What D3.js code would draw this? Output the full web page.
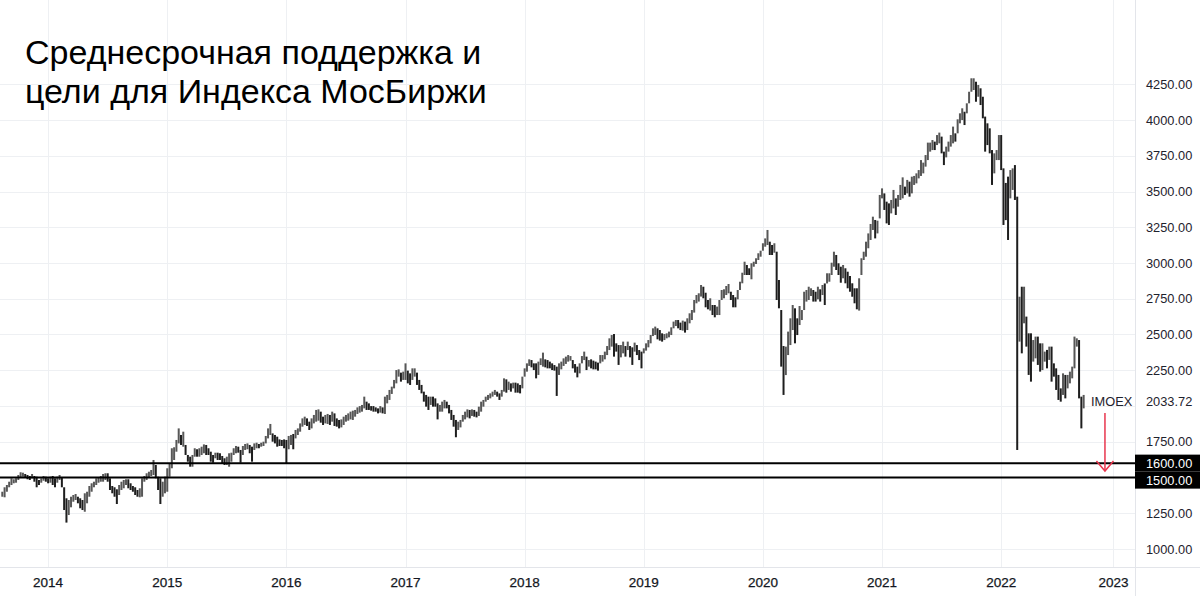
<!DOCTYPE html>
<html><head><meta charset="utf-8">
<script src="https://cdn.jsdelivr.net/npm/d3@7"></script>
<style>html,body{margin:0;padding:0;background:#fff}svg{display:block}</style>
</head><body>
<svg id="chart" width="1200" height="596"></svg>
<script>
// ---- DATA (weekly high / low, IMOEX) ----
const weekHigh = [
// 2013 (Aug-Dec)
1400,1431,1447,1470,1494,1487,1494,1517,1536,1533,1524,1517,1510,1524,1510,1505,1482,1494,1510,1505,
// 2014
1494,1505,1510,1494,1505,1517,1501,1431,1354,1342,1365,1377,1384,1365,1354,1342,1389,1400,1440,1459,1470,1494,1501,1510,1524,1529,
1529,1494,1440,1431,1417,1447,1470,1482,1487,1487,1459,1440,1431,1412,1424,1494,1510,1529,1540,1552,1622,1587,1505,1494,1470,1505,
// 2015
1564,1599,1704,1711,1762,1843,1797,1820,1727,1657,1645,1657,1704,1697,1704,1715,1731,1727,1704,1680,1657,1673,1673,1669,1650,1634,
1645,1669,1673,1704,1720,1715,1692,1720,1734,1738,1727,1715,1738,1743,1734,1743,1750,1790,1843,1874,1808,1797,1785,1766,1762,1766,
// 2016
1762,1790,1797,1804,1832,1843,1878,1913,1925,1913,1890,1913,1937,1972,1976,1960,1925,1937,1944,1937,1960,1948,1913,1902,1906,1925,
1937,1948,1960,1967,1972,1990,1999,2007,2065,2030,2018,1999,1999,1990,1983,1999,1990,2065,2077,2112,2135,2182,2251,2256,2233,2240,
// 2017
2298,2247,2228,2263,2263,2233,2182,2147,2100,2077,2065,2065,2065,2053,2018,2007,2030,2042,2030,2007,1972,1937,1902,1890,1902,1937,
1960,1976,1972,1976,1972,1960,1995,2030,2042,2065,2077,2088,2100,2112,2100,2088,2112,2193,2186,2170,2158,2163,2163,2158,2147,2205,
// 2018
2263,2298,2326,2321,2298,2298,2310,2333,2373,2326,2321,2310,2298,2286,2275,2298,2310,2333,2345,2356,2349,2321,2293,2275,2298,2349,
2380,2345,2321,2326,2317,2310,2303,2356,2356,2380,2419,2473,2496,2503,2438,2426,2426,2450,2419,2450,2419,2410,2443,2426,2391,2380,
// 2019
2403,2438,2461,2496,2543,2555,2543,2531,2508,2503,2508,2520,2550,2590,2601,2601,2583,2597,2590,2613,2648,2671,2741,2776,2788,2846,
2834,2792,2741,2753,2706,2706,2695,2741,2811,2816,2839,2853,2799,2776,2760,2811,2869,2932,3009,2986,2963,2998,3009,3033,3068,3086,
// 2020
3138,3172,3231,3149,3126,3138,3079,2881,2671,2419,2415,2520,2613,2706,2683,2613,2699,2671,2799,2811,2834,2823,2811,2799,2834,2816,
2846,2857,2928,2928,3002,3079,3056,2998,2974,2986,2963,2939,2909,2858,2823,2823,2893,3033,3079,3149,3207,3273,3324,3301,3296,3476,
// 2021
3522,3487,3429,3417,3441,3511,3452,3476,3546,3599,3534,3581,3569,3604,3609,3627,3650,3720,3702,3755,3842,3842,3860,3849,3895,3912,
3884,3779,3814,3849,3895,3954,3907,4005,4047,4082,4058,4117,4198,4292,4292,4268,4245,4222,4163,4024,3977,3942,3790,3767,3790,3895,
// 2022
3895,3662,3560,3604,3650,3662,3685,3464,2764,2834,2834,2625,2508,2508,2461,2485,2485,2438,2438,2380,2392,2415,2415,2298,2263,2217,
2123,2228,2217,2217,2240,2275,2485,2473,2461,2065,2077
];
const weekLow = [
// 2013 (Aug-Dec)
1365,1361,1400,1431,1447,1459,1463,1482,1501,1505,1501,1487,1482,1494,1470,1431,1447,1463,1477,1470,
// 2014
1459,1463,1447,1431,1463,1482,1431,1272,1184,1237,1291,1330,1342,1319,1284,1272,1260,1319,1365,1400,1431,1447,1463,1470,1470,1482,
1470,1412,1389,1365,1314,1377,1412,1424,1447,1424,1412,1400,1377,1365,1361,1365,1470,1482,1501,1510,1517,1494,1412,1314,1365,1389,
// 2015
1400,1505,1564,1622,1680,1738,1727,1715,1657,1610,1575,1575,1645,1645,1645,1657,1669,1657,1657,1610,1603,1634,1622,1622,1599,1587,
1587,1575,1610,1657,1669,1673,1603,1657,1692,1697,1669,1610,1692,1704,1704,1715,1720,1738,1773,1797,1750,1738,1715,1720,1720,1704,
// 2016
1599,1697,1727,1697,1773,1797,1820,1855,1867,1860,1832,1843,1878,1890,1897,1883,1867,1878,1874,1867,1890,1860,1855,1843,1850,1867,
1890,1897,1906,1902,1925,1944,1953,1960,1983,1972,1972,1967,1960,1960,1948,1953,1948,1944,2018,2042,2084,2123,2158,2205,2170,2182,
// 2017
2182,2158,2147,2182,2205,2147,2112,2088,2030,1995,1972,2007,1995,1995,1906,1960,1960,1983,1983,1948,1902,1855,1781,1832,1850,1890,
1906,1920,1913,1930,1925,1920,1930,1960,1995,2030,2042,2053,2065,2077,2065,2042,2065,2100,2093,2112,2100,2123,2093,2093,2088,2123,
// 2018
2205,2240,2280,2270,2251,2193,2217,2286,2275,2270,2263,2263,2251,2247,2070,2217,2256,2280,2294,2310,2317,2263,2233,2200,2228,2298,
2321,2251,2275,2263,2256,2256,2247,2298,2310,2326,2356,2391,2415,2345,2380,2287,2340,2368,2345,2391,2340,2287,2380,2356,2321,2263,
// 2019
2368,2387,2410,2438,2489,2496,2466,2457,2450,2461,2473,2480,2496,2543,2559,2543,2531,2527,2513,2531,2578,2601,2653,2718,2730,2765,
2753,2690,2676,2667,2636,2620,2636,2636,2741,2753,2776,2788,2741,2690,2690,2746,2811,2858,2916,2916,2916,2886,2974,2993,3021,3044,
// 2020
3086,3114,3126,3056,3056,3072,2741,2683,2275,2077,2216,2356,2426,2531,2438,2496,2566,2601,2671,2730,2741,2769,2730,2730,2746,2730,
2776,2706,2857,2869,2916,2974,2951,2916,2862,2893,2858,2823,2799,2764,2718,2676,2667,2916,3021,3044,3103,3161,3231,3172,3207,3312,
// 2021
3452,3371,3277,3266,3347,3382,3336,3394,3441,3452,3476,3487,3464,3487,3546,3557,3592,3609,3627,3674,3720,3779,3790,3790,3825,3837,
3767,3685,3739,3779,3814,3837,3849,3907,3977,4000,3965,4047,4117,4198,4210,4128,4163,4105,4012,3779,3825,3767,3546,3627,3720,3720,
// 2022
3650,3266,3300,3161,3452,3511,3441,1692,2450,2368,2578,2415,2217,2170,2310,2333,2287,2240,2251,2310,2263,2322,2170,2205,2112,2042,
2030,2077,2053,2123,2158,2193,2263,2415,2053,1843,1983
];
const yearLabels    = ["2014","2015","2016","2017","2018","2019","2020","2021","2022","2023"];
const yearBarIndex  = [20, 72, 124, 176, 228, 280, 332, 384, 436, 485];
const priceTicks    = [1000,1250,1750,2250,2500,2750,3000,3250,3500,3750,4000,4250];
const gridValues    = [1000,1250,1500,1750,2000,2250,2500,2750,3000,3250,3500,3750,4000,4250];
const supportLevels = [1600, 1500];
const lastPrice     = 2033.72;
const symbolName    = "IMOEX";
const titleLines    = ["Среднесрочная поддержка и", "цели для Индекса МосБиржи"];
// annotation arrow (bar index, price)
const arrowFrom = {i: 481.3, v: 1950};
const arrowTo   = {i: 481.3, v: 1545};

// ---- LAYOUT ----
const W = 1200, H = 596;
const plotRight = 1135, plotBottom = 567;
const FONT = "'Liberation Sans', Arial, sans-serif";

const svg = d3.select("#chart");
const x = d3.scaleLinear().domain([0, 1]).range([2.3, 2.3 + 2.291]);
const y = d3.scaleLinear().domain([1000, 4250]).range([548.9, 84.3]);

svg.append("rect").attr("width", W).attr("height", H).attr("fill", "#fff");

svg.append("defs").append("clipPath").attr("id", "plotclip")
  .append("rect").attr("x", 0).attr("y", 0).attr("width", plotRight).attr("height", plotBottom);

// grid
const grid = svg.append("g");
grid.selectAll("line.h").data(gridValues).enter().append("line")
  .attr("x1", 0).attr("x2", plotRight)
  .attr("y1", d => Math.round(y(d)) + 0.5).attr("y2", d => Math.round(y(d)) + 0.5)
  .attr("stroke", "#eef0f3").attr("stroke-width", 1);
grid.selectAll("line.v").data(yearBarIndex).enter().append("line")
  .attr("x1", d => Math.round(x(d)) + 0.5).attr("x2", d => Math.round(x(d)) + 0.5)
  .attr("y1", 0).attr("y2", plotBottom)
  .attr("stroke", "#eef0f3").attr("stroke-width", 1);

// bars
const bars = svg.append("g").attr("clip-path", "url(#plotclip)");
const mids = weekHigh.map((h, i) => (h + weekLow[i]) / 2);
bars.selectAll("rect").data(weekHigh).enter().append("rect")
  .attr("x", (d, i) => x(i) - 1)
  .attr("width", 2)
  .attr("y", d => y(d))
  .attr("height", (d, i) => Math.max(1, y(weekLow[i]) - y(d)))
  .attr("fill", (d, i) => (i > 0 && mids[i] < mids[i - 1]) ? "#1e1e1e" : "#575757");

// support lines
svg.selectAll("line.sup").data(supportLevels).enter().append("line")
  .attr("x1", 0).attr("x2", plotRight)
  .attr("y1", d => y(d)).attr("y2", d => y(d))
  .attr("stroke", "#000").attr("stroke-width", 2);

// axes borders
svg.append("line").attr("x1", 0).attr("x2", W).attr("y1", plotBottom + 0.5).attr("y2", plotBottom + 0.5)
  .attr("stroke", "#e3e5ea");
svg.append("line").attr("x1", plotRight + 0.5).attr("x2", plotRight + 0.5).attr("y1", 0).attr("y2", H)
  .attr("stroke", "#e3e5ea");

// price axis labels
const axisG = svg.append("g").attr("font-family", FONT).attr("font-size", 12.8).attr("fill", "#1e222d");
axisG.selectAll("text").data(priceTicks).enter().append("text")
  .attr("x", 1146).attr("y", d => y(d)).attr("dy", "0.36em")
  .text(d => d3.format(".2f")(d));
axisG.append("text").attr("x", 1146).attr("y", y(lastPrice)).attr("dy", "0.36em")
  .text(d3.format(".2f")(lastPrice));

// support level boxes (stacked to avoid overlap)
let prevBottom = -Infinity;
const boxH = 17;
supportLevels.forEach(v => {
  let top = y(v) - boxH / 2;
  if (top < prevBottom) top = prevBottom;
  prevBottom = top + boxH;
  svg.append("rect").attr("x", plotRight).attr("y", top).attr("width", W - plotRight).attr("height", boxH)
    .attr("fill", "#000");
  svg.append("text").attr("x", 1146).attr("y", top + boxH / 2).attr("dy", "0.36em")
    .attr("font-family", FONT).attr("font-size", 12.8).attr("fill", "#fff")
    .text(d3.format(".2f")(v));
});

// time axis labels
svg.append("g").selectAll("text").data(yearLabels).enter().append("text")
  .attr("x", (d, i) => x(yearBarIndex[i])).attr("y", 587)
  .attr("text-anchor", "middle")
  .attr("font-family", FONT).attr("font-size", 13.5).attr("fill", "#131722")
  .attr("stroke", "#131722").attr("stroke-width", 0.25)
  .text(d => d);

// symbol label
svg.append("text").attr("x", 1091).attr("y", y(lastPrice)).attr("dy", "0.36em")
  .attr("font-family", FONT).attr("font-size", 12.8).attr("fill", "#1e222d")
  .text(symbolName);

// red arrow
const ax = x(arrowFrom.i);
const ay1 = y(arrowFrom.v), ay2 = y(arrowTo.v);
const arrowG = svg.append("g").attr("stroke", "#e8364e").attr("stroke-width", 1.5).attr("fill", "none");
arrowG.append("line").attr("x1", ax).attr("x2", ax).attr("y1", ay1).attr("y2", ay2);
arrowG.append("path").attr("d", d3.line()([[ax - 8.5, ay2 - 10], [ax, ay2], [ax + 8.5, ay2 - 10]]));

// title
const title = svg.append("text").attr("font-family", FONT).attr("font-size", 34).attr("fill", "#000");
titleLines.forEach((t, k) => {
  title.append("tspan").attr("x", 25).attr("y", 64 + k * 39).text(t);
});
</script>
</body></html>
